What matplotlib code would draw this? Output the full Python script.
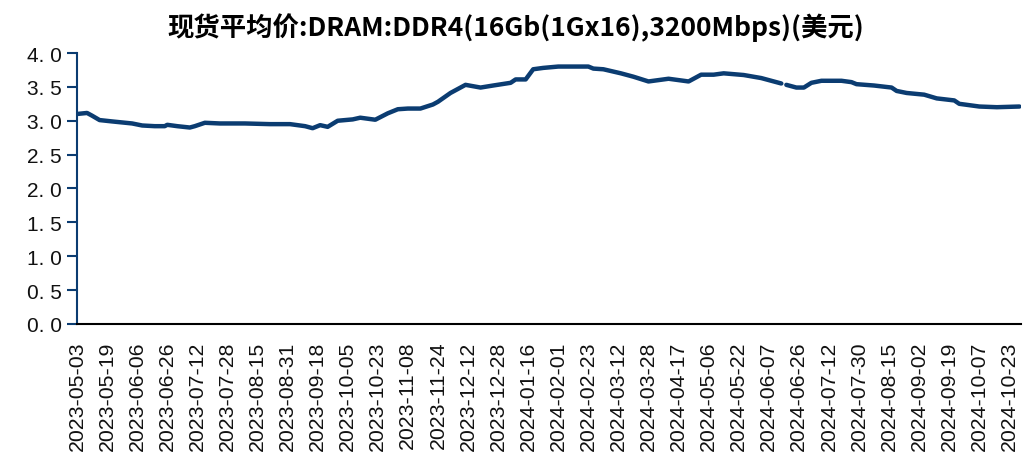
import numpy as np
import matplotlib
matplotlib.use("Agg")
import matplotlib.pyplot as plt
from matplotlib.ticker import FuncFormatter

# 交易日序号 与 现货均价(美元)
obs = [0, 4, 6, 9, 14, 22, 26, 31, 35, 36, 40, 45, 47, 51, 57, 67, 77, 85,
       91, 94, 97, 100, 104, 110, 113, 119, 124, 128, 132, 137, 142, 144,
       149, 155, 161, 166, 173, 175, 179, 182, 186, 192, 197, 204, 206, 210,
       217, 222, 228, 232, 236, 240, 244, 249, 254, 258, 266, 273, 281, 282,
       283, 287, 290, 293, 297, 305, 309, 311, 318, 325, 327, 331, 338, 343,
       350, 352, 360, 367, 376]
price = [3.10, 3.115, 3.075, 3.01, 2.99, 2.96, 2.93, 2.92, 2.92, 2.94, 2.92,
         2.90, 2.92, 2.97, 2.96, 2.96, 2.95, 2.95,
         2.92, 2.89, 2.935, 2.91, 3.00, 3.02, 3.045, 3.015, 3.11, 3.17, 3.18,
         3.18, 3.24, 3.28,
         3.41, 3.53, 3.49, 3.52, 3.56, 3.61, 3.61, 3.76, 3.78, 3.80, 3.80,
         3.80, 3.77, 3.76,
         3.70, 3.65, 3.58, 3.60, 3.62, 3.60, 3.58, 3.68, 3.68, 3.70, 3.675,
         3.63, 3.55, np.nan,
         3.53, 3.49, 3.49, 3.56, 3.59, 3.59, 3.57, 3.54, 3.52, 3.49, 3.44,
         3.41, 3.385, 3.33,
         3.30, 3.25, 3.21, 3.20, 3.21]

# x轴标签 (每12个交易日一个)
date_labels = ['2023-05-03', '2023-05-19', '2023-06-06', '2023-06-26',
               '2023-07-12', '2023-07-28', '2023-08-15', '2023-08-31',
               '2023-09-18', '2023-10-05', '2023-10-23', '2023-11-08',
               '2023-11-24', '2023-12-12', '2023-12-28', '2024-01-16',
               '2024-02-01', '2024-02-23', '2024-03-12', '2024-03-28',
               '2024-04-17', '2024-05-06', '2024-05-22', '2024-06-07',
               '2024-06-26', '2024-07-12', '2024-07-30', '2024-08-15',
               '2024-09-02', '2024-09-19', '2024-10-07', '2024-10-23']
label_step = 12

titulo = '现货平均价:DRAM:DDR4(16Gb(1Gx16),3200Mbps)(美元)'

azul = '#0b3c71'

fig = plt.figure(figsize=(10.31, 4.6), dpi=100)
ax = fig.add_axes([0.0747, 0.2935, 0.9153, 0.5891])

ax.plot(obs, price, color=azul, linewidth=3.2, solid_capstyle='round')

ax.set_xlim(0, 376.5)
ax.set_ylim(0, 4.0)
ax.set_yticks(np.arange(0, 4.01, 0.5))
ax.yaxis.set_major_formatter(FuncFormatter(lambda v, p: f"{v:.1f}".replace('.', '. ')))

ax.set_xticks(np.arange(len(date_labels)) * label_step)
ax.set_xticklabels(date_labels, rotation=90)

for s in ['top', 'right']:
    ax.spines[s].set_visible(False)
ax.spines['left'].set_color(azul)
ax.spines['left'].set_linewidth(1.5)
ax.spines['bottom'].set_color('black')
ax.spines['bottom'].set_linewidth(1.5)

ax.tick_params(axis='y', colors=azul, length=7, width=1.5, pad=4,
               labelsize=15, labelcolor='#111111')
ax.tick_params(axis='x', length=0, pad=12, labelsize=15.3, labelcolor='#111111')
for lbl in ax.get_yticklabels() + ax.get_xticklabels():
    lbl.set_family('Liberation Sans')

fig.text(0.5, 0.94, titulo, ha='center', va='center', fontsize=19,
         fontweight='bold', family=['Noto Sans CJK SC', 'DejaVu Sans'])

fig.savefig('out.png', dpi=100)
